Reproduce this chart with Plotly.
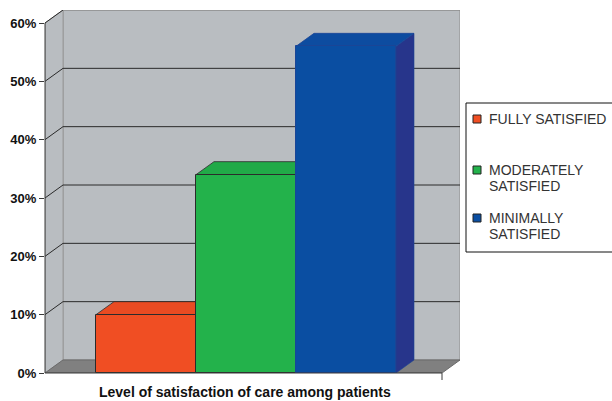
import plotly.graph_objects as go

# Survey result: share of patients per satisfaction level (%)
categories = ["FULLY SATISFIED", "MODERATELY SATISFIED", "MINIMALLY SATISFIED"]
legend_lines = [["FULLY SATISFIED"], ["MODERATELY", "SATISFIED"], ["MINIMALLY", "SATISFIED"]]
values = [10, 34, 56]
y_ticks = [0, 10, 20, 30, 40, 50, 60]
x_title = "Level of satisfaction of care among patients"

# Styling
front_colors = ["#F04E23", "#23B24B", "#0A4EA2"]
top_colors = ["#E94B22", "#21AA48", "#0D4CA0"]
side_colors = ["#C63E1C", "#1B8E3C", "#27358B"]
edge_colors = ["#2B2B2B", "#2B2B2B", "#1A4596"]
WALL = "#B9BDC1"
FLOOR = "#808080"
GRID = "#2A2A2A"
FONT = "Liberation Sans, Arial, sans-serif"

# Box geometry in axis units (front-left corner, front-right corner, depth offset)
X0, X1 = -1.01, 2.96
DX, DY = 0.18, 2.23
YMAX = 60

W, H = 612, 401
ML, MR, MT, MB = 45, 152, 10, 28
pw, ph = W - ML - MR, H - MT - MB
xr = [X0, X1 + DX]
yr = [0, YMAX + DY]

# Legend layout (pixels): frame, swatch column, text column, row positions
LEG_BOX = (466, 103, 660, 252)
LEG_SWATCH_X, LEG_SWATCH = 473, 8
LEG_TEXT_X = 487
LEG_ROW_Y = [119, 170, 218]
LEG_LINE_H = 16


def px_x(px):
    return (px - ML) / pw


def px_y(py):
    return (H - MB - py) / ph


fig = go.Figure()

for i, (cat, v) in enumerate(zip(categories, values)):
    fig.add_trace(go.Bar(
        x=[i], y=[v], width=1, name=cat,
        marker=dict(color=front_colors[i], line=dict(color=edge_colors[i], width=1)),
        hoverinfo="skip", showlegend=False,
    ))

shapes = []
# back wall, left wall, floor
shapes.append(dict(type="rect", xref="x", yref="y", x0=X0 + DX, x1=X1 + DX, y0=DY, y1=YMAX + DY,
                   fillcolor=WALL, line=dict(color="#8C8C8C", width=1), layer="below"))
shapes.append(dict(type="path", xref="x", yref="y",
                   path=f"M{X0},0 L{X0},{YMAX} L{X0 + DX},{YMAX + DY} L{X0 + DX},{DY} Z",
                   fillcolor=WALL, line=dict(color="#9A9A9A", width=1), layer="below"))
shapes.append(dict(type="path", xref="x", yref="y",
                   path=f"M{X0},0 L{X0 + DX},{DY} L{X1 + DX},{DY} L{X1},0 Z",
                   fillcolor=FLOOR, line=dict(color="#6A6A6A", width=1), layer="below"))
# gridlines on back and side walls
for v in y_ticks[1:]:
    shapes.append(dict(type="line", xref="x", yref="y", x0=X0 + DX, x1=X1 + DX, y0=v + DY, y1=v + DY,
                       line=dict(color=GRID if v < YMAX else "#8C8C8C", width=1), layer="below"))
    shapes.append(dict(type="line", xref="x", yref="y", x0=X0, x1=X0 + DX, y0=v, y1=v + DY,
                       line=dict(color=GRID, width=1), layer="below"))
# bar tops and right sides (fronts are covered by the next bar where they overlap)
for i, v in enumerate(values):
    xl, xrr = i - 0.5, i + 0.5
    shapes.append(dict(type="path", xref="x", yref="y",
                       path=f"M{xrr},0 L{xrr + DX},{DY} L{xrr + DX},{v + DY} L{xrr},{v} Z",
                       fillcolor=side_colors[i], line=dict(color=edge_colors[i], width=0.6), layer="below"))
    shapes.append(dict(type="path", xref="x", yref="y",
                       path=f"M{xl},{v} L{xl + DX},{v + DY} L{xrr + DX},{v + DY} L{xrr},{v} Z",
                       fillcolor=top_colors[i], line=dict(color=edge_colors[i], width=0.8), layer="below"))
# front edges of the box
y60 = YMAX / yr[1]
shapes.append(dict(type="line", xref="paper", yref="paper", x0=0, x1=0, y0=0, y1=y60,
                   line=dict(color="#3A3A3A", width=1)))
xfr = (X1 - X0) / (xr[1] - xr[0])
shapes.append(dict(type="line", xref="paper", yref="paper", x0=0, x1=xfr, y0=0, y1=0,
                   line=dict(color="#3A3A3A", width=1)))
shapes.append(dict(type="line", xref="paper", yref="paper", x0=xfr, x1=xfr, y0=0, y1=px_y(380),
                   line=dict(color="#3A3A3A", width=1)))

# legend: frame, colour swatches and labels
lx0, ly0, lx1, ly1 = LEG_BOX
shapes.append(dict(type="rect", xref="paper", yref="paper", x0=px_x(lx0), x1=px_x(lx1),
                   y0=px_y(ly1), y1=px_y(ly0), line=dict(color="#111111", width=1),
                   fillcolor="white"))
annotations = []
for i, lines in enumerate(legend_lines):
    ry = LEG_ROW_Y[i]
    h = LEG_SWATCH / 2
    shapes.append(dict(type="rect", xref="paper", yref="paper",
                       x0=px_x(LEG_SWATCH_X), x1=px_x(LEG_SWATCH_X + LEG_SWATCH),
                       y0=px_y(ry + h), y1=px_y(ry - h),
                       fillcolor=front_colors[i], line=dict(color="#222222", width=1)))
    for k, line in enumerate(lines):
        annotations.append(dict(text=line, xref="paper", yref="paper",
                                x=px_x(LEG_TEXT_X), y=px_y(ry + k * LEG_LINE_H),
                                xanchor="left", yanchor="middle", showarrow=False,
                                font=dict(family=FONT, size=14, color="#333333")))

annotations.append(dict(text=x_title, xref="paper", yref="paper", x=px_x(245), y=px_y(392),
                        xanchor="center", yanchor="middle", showarrow=False,
                        font=dict(family=FONT, size=14, color="#111111", weight="bold")))

fig.update_layout(
    width=W, height=H,
    margin=dict(l=ML, r=MR, t=MT, b=MB, autoexpand=False),
    paper_bgcolor="white", plot_bgcolor="white",
    barmode="overlay", bargap=0,
    shapes=shapes,
    showlegend=False,
    xaxis=dict(range=xr, showgrid=False, zeroline=False, showticklabels=False,
               ticks="", showline=False, fixedrange=True),
    yaxis=dict(range=yr, showgrid=False, zeroline=False, showline=False,
               tickvals=y_ticks, ticktext=[f"{v}%" for v in y_ticks],
               ticks="outside", ticklen=5, tickwidth=1, tickcolor="#3A3A3A",
               tickfont=dict(family=FONT, size=13, color="#111111", weight="bold"),
               fixedrange=True),
    annotations=annotations,
)

fig.write_html("out.html")
